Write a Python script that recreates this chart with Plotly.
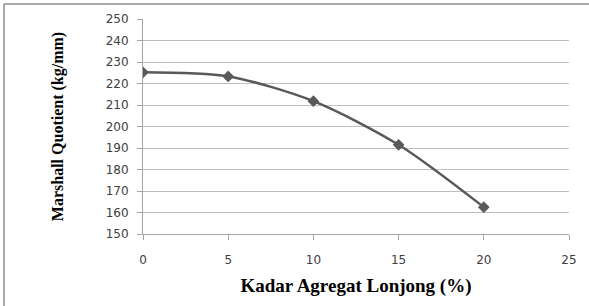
import plotly.graph_objects as go

kadar = [0, 5, 10, 15, 20]
mq = [225.2, 223.3, 211.8, 191.5, 162.5]
x_ticks = [0, 5, 10, 15, 20, 25]
y_ticks = [150, 160, 170, 180, 190, 200, 210, 220, 230, 240, 250]

fig = go.Figure()
fig.add_trace(go.Scatter(
    x=kadar, y=mq, mode="lines+markers",
    line=dict(color="#595959", width=2.5, shape="spline", smoothing=0.8),
    marker=dict(symbol="diamond", size=9, color="#595959"),
    showlegend=False,
))

tickfont = dict(family="DejaVu Sans", size=12, color="#404040")
fig.update_layout(
    width=589, height=306,
    margin=dict(l=143, r=20, t=19, b=72),
    paper_bgcolor="white", plot_bgcolor="white",
    xaxis=dict(
        range=[0, 25], tickvals=x_ticks, showgrid=False,
        showline=True, linecolor="#a6a6a6", linewidth=1,
        ticks="outside", ticklen=5, tickcolor="#a6a6a6",
        tickfont=tickfont, zeroline=False, ticklabelstandoff=10,
        title=dict(text="<b>Kadar Agregat Lonjong (%)</b>",
                   font=dict(family="Liberation Serif", size=19, color="black"),
                   standoff=12),
    ),
    yaxis=dict(
        range=[150, 250], tickvals=y_ticks, showgrid=True, gridcolor="#bfbfbf",
        gridwidth=1, showline=True, linecolor="#a6a6a6", linewidth=1,
        ticks="outside", ticklen=5, tickcolor="#a6a6a6",
        tickfont=tickfont, zeroline=False, ticklabelstandoff=6,
        title=dict(text="<b>Marshall Quotient (kg/mm)</b>",
                   font=dict(family="Liberation Serif", size=16, color="black"),
                   standoff=38),
    ),
    shapes=[
        dict(type="line", xref="paper", yref="paper",
             x0=-139/426, x1=1.1, y0=1 + 15/215, y1=1 + 15/215,
             line=dict(color="#8c8c8c", width=1.5)),
        dict(type="line", xref="paper", yref="paper",
             x0=-139/426, x1=-139/426, y0=-0.5, y1=1 + 15/215,
             line=dict(color="#8c8c8c", width=1.5)),
    ],
)
fig.write_html("out.html", config={"displayModeBar": False},
               post_script="document.body.style.margin='0';document.body.style.overflow='hidden';")
